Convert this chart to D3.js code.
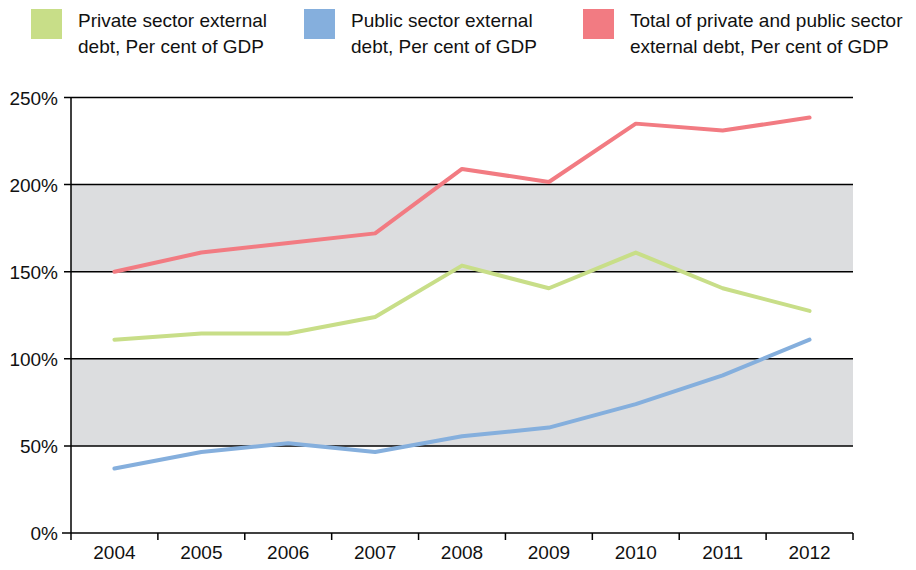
<!DOCTYPE html>
<html>
<head>
<meta charset="utf-8">
<script src="https://cdn.jsdelivr.net/npm/d3@7"></script>
<style>
  body { margin: 0; background: #fff; }
  svg { font-family: "Liberation Sans", Arial, sans-serif; }
</style>
</head>
<body>
<svg class="root"></svg>
<script>
var years = ["2004", "2005", "2006", "2007", "2008", "2009", "2010", "2011", "2012"];
var privateDebt = [111, 114.5, 114.5, 124, 153.5, 140.5, 161, 140.5, 127.5];
var publicDebt = [37, 46.5, 51.5, 46.5, 55.5, 60.5, 74, 90.5, 111];
var totalDebt = [150, 161, 166.5, 172, 209, 201.5, 235, 231, 238.5];
var yTicks = [0, 50, 100, 150, 200, 250];
var shadedBands = [[50, 100], [150, 200]];

var seriesNames = [
  ["Private sector external", "debt, Per cent of GDP"],
  ["Public sector external", "debt, Per cent of GDP"],
  ["Total of private and public sector", "external debt, Per cent of GDP"]
];
var seriesData = [privateDebt, publicDebt, totalDebt];
var colors = ["#c8de88", "#85afdd", "#f27b82"];

var width = 916, height = 570;
var plotLeft = 71, plotRight = 853, plotTop = 97.5, plotBottom = 533;

var svg = d3.select(".root")
    .attr("width", width)
    .attr("height", height);

var x = d3.scaleBand()
    .domain(years)
    .range([plotLeft, plotRight]);

var y = d3.scaleLinear()
    .domain([0, 250])
    .range([plotBottom, plotTop]);

// shaded bands
svg.selectAll("rect.band")
    .data(shadedBands)
  .enter().append("rect")
    .attr("class", "band")
    .attr("x", plotLeft)
    .attr("width", plotRight - plotLeft)
    .attr("y", (d) => y(d[1]))
    .attr("height", (d) => y(d[0]) - y(d[1]))
    .attr("fill", "#dcdddf");

// gridlines + y ticks
svg.selectAll("line.grid")
    .data(yTicks.filter((d) => d > 0))
  .enter().append("line")
    .attr("x1", plotLeft - 7)
    .attr("x2", plotRight)
    .attr("y1", (d) => y(d))
    .attr("y2", (d) => y(d))
    .attr("stroke", "#000")
    .attr("stroke-width", 1.5);

svg.selectAll("text.ylab")
    .data(yTicks)
  .enter().append("text")
    .attr("x", 58)
    .attr("y", (d) => y(d) + 7)
    .attr("text-anchor", "end")
    .attr("font-size", 19)
    .attr("fill", "#111")
    .text((d) => d + "%");

// x axis labels
var xAxis = d3.axisBottom(x).tickSize(0).tickSizeOuter(0);
var gx = svg.append("g")
    .attr("transform", "translate(0," + plotBottom + ")")
    .call(xAxis);
gx.select(".domain").remove();
gx.selectAll("text")
    .attr("font-size", 19)
    .attr("font-family", "Liberation Sans, Arial, sans-serif")
    .attr("fill", "#111")
    .attr("dy", "1.2em");

svg.append("line")
    .attr("x1", plotLeft - 9).attr("x2", plotRight)
    .attr("y1", plotBottom).attr("y2", plotBottom)
    .attr("stroke", "#000").attr("stroke-width", 1.5);

svg.append("line")
    .attr("x1", plotLeft).attr("x2", plotLeft)
    .attr("y1", plotTop).attr("y2", plotBottom + 7)
    .attr("stroke", "#000").attr("stroke-width", 1.5);

var boundaries = years.slice(1).map((d) => x(d)).concat([plotRight]);
svg.selectAll("line.xtick")
    .data(boundaries)
  .enter().append("line")
    .attr("x1", (d) => d).attr("x2", (d) => d)
    .attr("y1", plotBottom).attr("y2", plotBottom + 7)
    .attr("stroke", "#000").attr("stroke-width", 1.5);

// lines
var line = d3.line()
    .x((d, i) => x(years[i]) + x.bandwidth() / 2)
    .y((d) => y(d));

svg.selectAll("path.series")
    .data(seriesData)
  .enter().append("path")
    .attr("class", "series")
    .attr("d", line)
    .attr("fill", "none")
    .attr("stroke", (d, i) => colors[i])
    .attr("stroke-width", 4)
    .attr("stroke-linecap", "round")
    .attr("stroke-linejoin", "round");

// legend
var legendX = [31, 304, 583];
var legend = svg.selectAll("g.legend")
    .data(seriesNames)
  .enter().append("g")
    .attr("transform", (d, i) => "translate(" + legendX[i] + ",9)");

legend.append("rect")
    .attr("width", 31)
    .attr("height", 30)
    .attr("fill", (d, i) => colors[i]);

legend.append("text")
    .attr("x", 47)
    .attr("y", 18)
    .attr("font-size", 19)
    .attr("fill", "#111")
    .text((d) => d[0]);

legend.append("text")
    .attr("x", 47)
    .attr("y", 44)
    .attr("font-size", 19)
    .attr("fill", "#111")
    .text((d) => d[1]);
</script>
</body>
</html>
